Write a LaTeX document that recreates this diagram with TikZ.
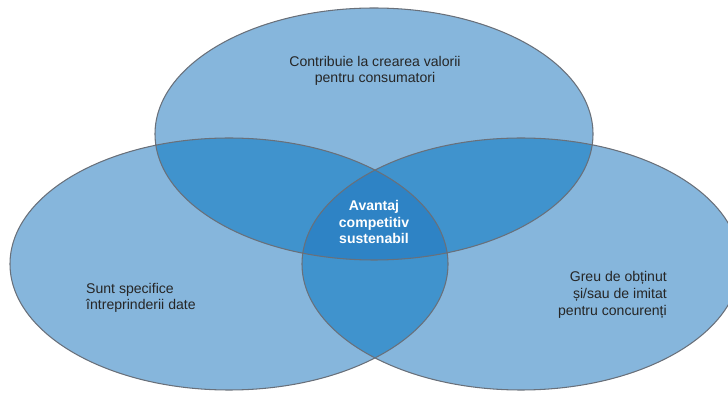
\documentclass[tikz,border=0pt]{standalone}
\usepackage{fontspec}
\setmainfont{Liberation Sans}

\definecolor{unu}{RGB}{134,182,220}
\definecolor{doi}{RGB}{64,147,205}
\definecolor{trei}{RGB}{46,131,197}
\definecolor{contur}{RGB}{105,112,122}
\definecolor{scris}{RGB}{38,38,38}

\tikzset{
    eticheta/.style={text=scris,inner sep=0pt,font=\fontsize{12}{14.2}\selectfont},
    centru/.style={text=white,inner sep=0pt,align=center,font=\bfseries\fontsize{12}{14.4}\selectfont}
}

\begin{document}
\begin{tikzpicture}[x=0.03cm,y=0.03cm]
    \clip (0,0) rectangle (728,392);
    \def\elsus{(374,258) ellipse [x radius=219,y radius=126]}
    \def\elst{(229,128) ellipse [x radius=219,y radius=126]}
    \def\eldr{(521,128) ellipse [x radius=219,y radius=126]}
    % fonduri
    \fill[unu] \elsus \elst \eldr;
    \begin{scope}
        \clip \elsus;
        \fill[doi] \elst;
        \fill[doi] \eldr;
    \end{scope}
    \begin{scope}
        \clip \elst;
        \fill[doi] \eldr;
    \end{scope}
    \begin{scope}
        \clip \elsus;
        \clip \elst;
        \fill[trei] \eldr;
    \end{scope}
    % contururi
    \draw[contur,line width=0.9pt] \elsus \elst \eldr;
    % texte
    \node[eticheta,align=center] (valoare) at (375,321) {Contribuie la crearea valorii\\pentru consumatori};
    \node[centru] (avantaj) at (374,170) {Avantaj\\competitiv\\sustenabil};
    \node[eticheta,align=left,anchor=west] (specific) at (86,94) {Sunt specifice\\întreprinderii date};
    \node[eticheta,align=right,anchor=east] (imitat) at (667,97) {Greu de obținut\\și/sau de imitat\\pentru concurenți};
\end{tikzpicture}
\end{document}
